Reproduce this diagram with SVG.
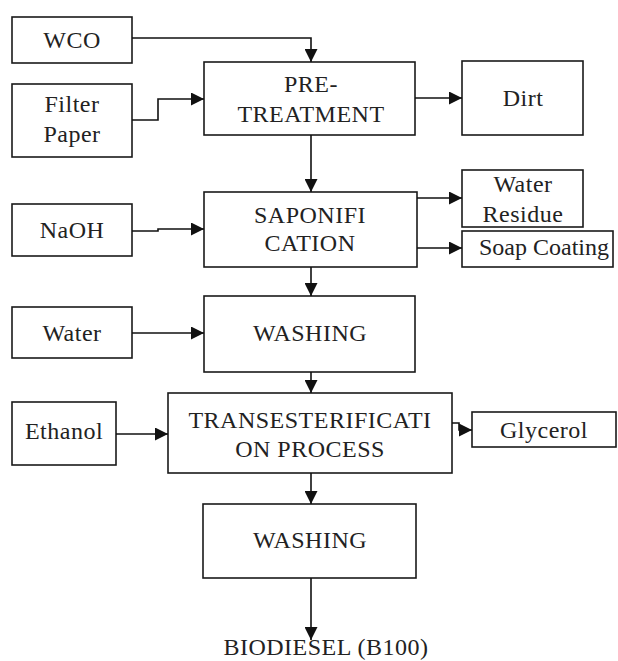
<svg xmlns="http://www.w3.org/2000/svg" width="618" height="661" viewBox="0 0 618 661">
<defs>
<style>
rect{fill:#fff;stroke:#1a1a1a;stroke-width:1.6}
text{font-family:"Liberation Serif","Times New Roman",serif;font-size:24px;fill:#222;text-anchor:middle;letter-spacing:0.5px}
.c path{fill:none;stroke:#111;stroke-width:1.6}
</style>
<marker id="ah" markerWidth="13" markerHeight="13" refX="13" refY="6.5" orient="auto" markerUnits="userSpaceOnUse"><path d="M0,0 L13,6.5 L0,13 z" fill="#111"/></marker>
</defs>
<rect x="0" y="0" width="618" height="661" style="fill:#fff;stroke:none"/>
<g id="wco"><rect x="12" y="17" width="120" height="46"/><text x="72" y="48">WCO</text></g>
<g id="filter"><rect x="12" y="84" width="120" height="73"/><text x="72" y="112">Filter</text><text x="72" y="142">Paper</text></g>
<g id="pretreat"><rect x="204" y="62" width="211" height="73"/><text x="311" y="92">PRE-</text><text x="311" y="122">TREATMENT</text></g>
<g id="dirt"><rect x="462" y="61" width="121" height="74"/><text x="523" y="106">Dirt</text></g>
<g id="naoh"><rect x="12" y="204" width="120" height="52"/><text x="72" y="238">NaOH</text></g>
<g id="sapon"><rect x="204" y="192" width="213" height="75"/><text x="310" y="223">SAPONIFI</text><text x="310" y="251">CATION</text></g>
<g id="waterres"><rect x="462" y="170" width="121" height="57"/><text x="523" y="192">Water</text><text x="523" y="222">Residue</text></g>
<g id="soap"><rect x="462" y="231" width="151" height="36"/><text x="544" y="255" style="letter-spacing:0">Soap Coating</text></g>
<g id="water"><rect x="12" y="307" width="120" height="51"/><text x="72" y="341">Water</text></g>
<g id="wash1"><rect x="204" y="296" width="211" height="76"/><text x="310" y="341">WASHING</text></g>
<g id="ethanol"><rect x="12" y="402" width="104" height="63"/><text x="64" y="439">Ethanol</text></g>
<g id="trans"><rect x="168" y="393" width="284" height="80"/><text x="310" y="428">TRANSESTERIFICATI</text><text x="310" y="457">ON PROCESS</text></g>
<g id="glycerol"><rect x="472" y="412" width="144" height="35"/><text x="544" y="438">Glycerol</text></g>
<g id="wash2"><rect x="203" y="504" width="213" height="74"/><text x="310" y="548">WASHING</text></g>
<g id="biodiesel"><text x="326" y="655">BIODIESEL (B100)</text></g>
<g id="connectors" class="c">
<path d="M132,38 H311 V62" marker-end="url(#ah)"/>
<path d="M132,120 H158 V99 H204" marker-end="url(#ah)"/>
<path d="M415,98 H462" marker-end="url(#ah)"/>
<path d="M311,135 V192" marker-end="url(#ah)"/>
<path d="M132,231 H158 V229 H204" marker-end="url(#ah)"/>
<path d="M417,198 H462" marker-end="url(#ah)"/>
<path d="M417,248 H462" marker-end="url(#ah)"/>
<path d="M311,267 V296" marker-end="url(#ah)"/>
<path d="M132,333 H204" marker-end="url(#ah)"/>
<path d="M311,372 V393" marker-end="url(#ah)"/>
<path d="M116,434 H168" marker-end="url(#ah)"/>
<path d="M452,423 H459 V430 H472" marker-end="url(#ah)"/>
<path d="M311,473 V504" marker-end="url(#ah)"/>
<path d="M311,578 V640" marker-end="url(#ah)"/>
</g>
</svg>
